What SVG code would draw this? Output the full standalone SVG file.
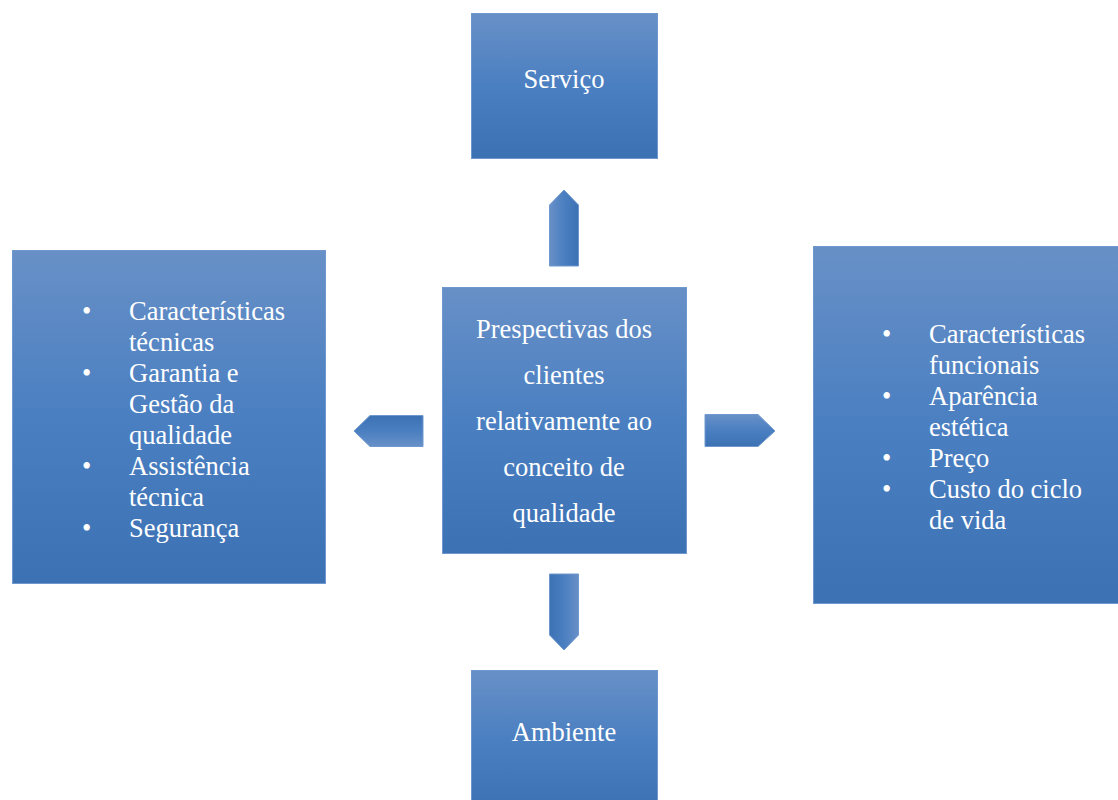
<svg xmlns="http://www.w3.org/2000/svg" width="1118" height="800" viewBox="0 0 1118 800">
  <defs>
    <!-- box fill: lighter at top, deeper blue at bottom -->
    <linearGradient id="boxFill" x1="0" y1="0" x2="0" y2="1">
      <stop offset="0" stop-color="#6890c7"/>
      <stop offset="0.5" stop-color="#4a7fc1"/>
      <stop offset="1" stop-color="#3c71b3"/>
    </linearGradient>
    <linearGradient id="arrowTB" x1="0" y1="0" x2="0" y2="1">
      <stop offset="0" stop-color="#6890c7"/>
      <stop offset="0.5" stop-color="#4a7fc1"/>
      <stop offset="1" stop-color="#3c71b3"/>
    </linearGradient>
    <linearGradient id="arrowBT" x1="0" y1="1" x2="0" y2="0">
      <stop offset="0" stop-color="#6890c7"/>
      <stop offset="0.5" stop-color="#4a7fc1"/>
      <stop offset="1" stop-color="#3c71b3"/>
    </linearGradient>
    <linearGradient id="arrowLR" x1="0" y1="0" x2="1" y2="0">
      <stop offset="0" stop-color="#6890c7"/>
      <stop offset="0.5" stop-color="#4a7fc1"/>
      <stop offset="1" stop-color="#3c71b3"/>
    </linearGradient>
    <linearGradient id="arrowRL" x1="1" y1="0" x2="0" y2="0">
      <stop offset="0" stop-color="#6890c7"/>
      <stop offset="0.5" stop-color="#4a7fc1"/>
      <stop offset="1" stop-color="#3c71b3"/>
    </linearGradient>
  </defs>
  <style>
    .box { fill: url(#boxFill); stroke: #6f98cf; stroke-width: 1; }
    .arrow { stroke: #6f98cf; stroke-width: 1; }
    text { font-family: "Liberation Serif", "Times New Roman", serif; font-size: 26.5px; fill: #ffffff; }
    .c { text-anchor: middle; }
  </style>

  <rect width="1118" height="800" fill="#ffffff"/>

  <g id="servico">
    <rect class="box" x="471.5" y="13.5" width="186" height="145"/>
    <text class="c" x="564" y="88">Serviço</text>
  </g>

  <g id="centro">
    <rect class="box" x="442.5" y="287.5" width="244" height="266"/>
    <text class="c" x="564" y="338">Prespectivas dos</text>
    <text class="c" x="564" y="384">clientes</text>
    <text class="c" x="564" y="430">relativamente ao</text>
    <text class="c" x="564" y="476">conceito de</text>
    <text class="c" x="564" y="522">qualidade</text>
  </g>

  <g id="tecnico">
    <rect class="box" x="12.5" y="250.5" width="313" height="333"/>
    <text x="82" y="320">•</text>
    <text x="129" y="320">Características</text>
    <text x="129" y="351">técnicas</text>
    <text x="82" y="382">•</text>
    <text x="129" y="382">Garantia e</text>
    <text x="129" y="413">Gestão da</text>
    <text x="129" y="444">qualidade</text>
    <text x="82" y="475">•</text>
    <text x="129" y="475">Assistência</text>
    <text x="129" y="506">técnica</text>
    <text x="82" y="537">•</text>
    <text x="129" y="537">Segurança</text>
  </g>

  <g id="funcional">
    <rect class="box" x="813.5" y="246.5" width="306" height="357"/>
    <text x="882" y="343">•</text>
    <text x="929" y="343">Características</text>
    <text x="929" y="374">funcionais</text>
    <text x="882" y="405">•</text>
    <text x="929" y="405">Aparência</text>
    <text x="929" y="436">estética</text>
    <text x="882" y="467">•</text>
    <text x="929" y="467">Preço</text>
    <text x="882" y="498">•</text>
    <text x="929" y="498">Custo do ciclo</text>
    <text x="929" y="529">de vida</text>
  </g>

  <g id="ambiente">
    <rect class="box" x="471.5" y="670.5" width="186" height="140"/>
    <text class="c" x="564" y="741">Ambiente</text>
  </g>

  <g id="connectors">
    <!-- up -->
    <polygon class="arrow" fill="url(#arrowLR)" points="549.5,266 549.5,205 564,190 578.5,205 578.5,266"/>
    <!-- down -->
    <polygon class="arrow" fill="url(#arrowRL)" points="549.5,574 578.5,574 578.5,635 564,650 549.5,635"/>
    <!-- left -->
    <polygon class="arrow" fill="url(#arrowBT)" points="423,415.5 423,446.5 370,446.5 354,431 370,415.5"/>
    <!-- right -->
    <polygon class="arrow" fill="url(#arrowTB)" points="705,414.5 758,414.5 775,431 758,446.5 705,446.5"/>
  </g>
</svg>
